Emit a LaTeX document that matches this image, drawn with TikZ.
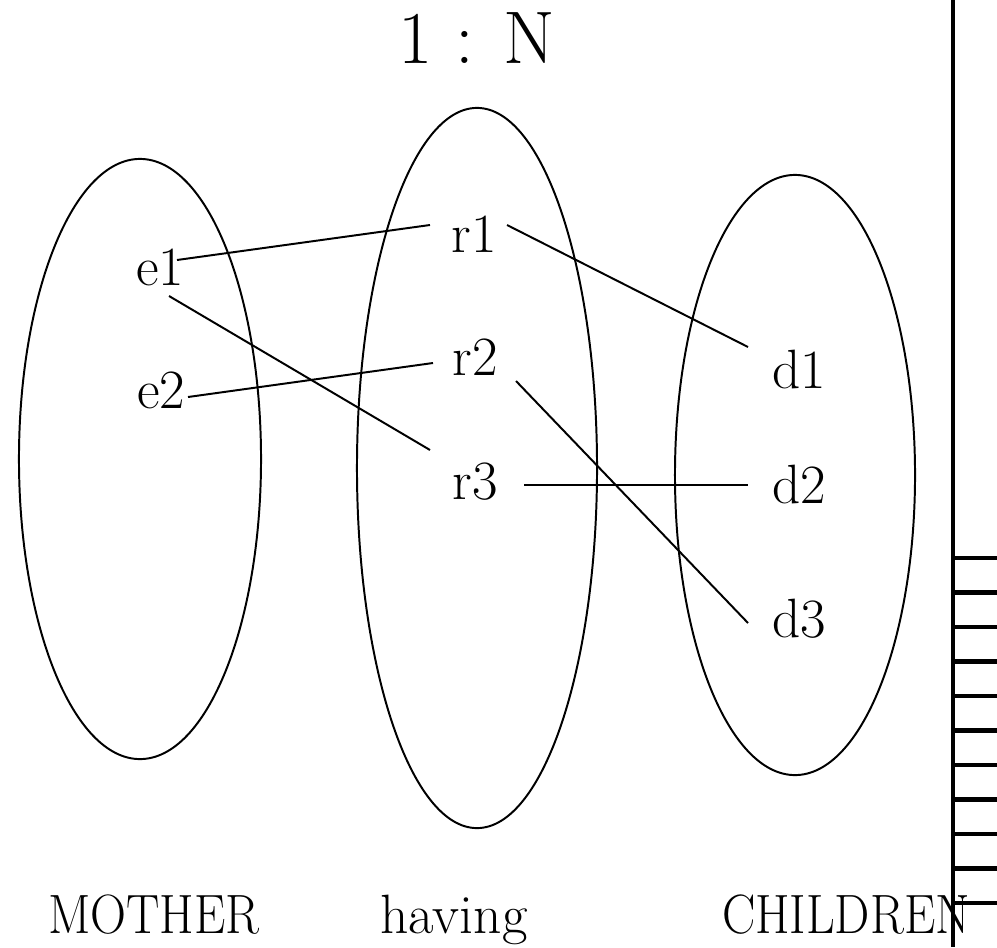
\documentclass[tikz,border=0pt]{standalone}
\usepackage{graphicx}
\usepackage{tikz}
\usetikzlibrary{shapes.geometric,calc}
\tikzset{
  er/set/.style={draw, ellipse, line width=1.4pt, inner sep=0pt},
  er/elem/.style={anchor=base, inner sep=0pt, font=\fontsize{39.4}{40}\selectfont},
  er/line/.style={line width=1.4pt},
  er/axis/.style={line width=2.3pt},
  er/tick/.style={line width=3.5pt}
}
\newcommand{\narrowcaps}[1]{\scalebox{0.9}[1]{#1}}

\begin{document}
\begin{tikzpicture}[x=0.025cm, y=-0.025cm]
  \useasboundingbox (0,0) rectangle (997,947);
  % the three sets
  \node[er/set, minimum width=6.05cm, minimum height=15cm] (mother) at (140,459) {};
  \node[er/set, minimum width=6cm, minimum height=18cm] (having) at (477,468) {};
  \node[er/set, minimum width=6cm, minimum height=15cm] (children) at (795,475) {};
  \node[er/elem, font=\fontsize{53}{54}\selectfont] (ratio) at (477,63) {1 : N};
  % elements
  \node[er/elem] (e1) at (160,285) {e1};
  \node[er/elem] (e2) at (161,408) {e2};
  \node[er/elem] (r1) at (474,252) {r1};
  \node[er/elem] (r2) at (475,375) {r2};
  \node[er/elem] (r3) at (475,499) {r3};
  \node[er/elem] (d1) at (799,388) {d1};
  \node[er/elem] (d2) at (799,503) {d2};
  \node[er/elem] (d3) at (799,637) {d3};
  % set names
  \node[er/elem] (mothername) at (154,933) {\narrowcaps{MOTHER}};
  \node[er/elem] (havingname) at (454,933) {having};
  \node[er/elem] (childrenname) at (846,933) {\narrowcaps{CHILDREN}};
  % links
  \draw[er/line] ([shift={(17,-25)}]e1.base) -- ([shift={(-44,-27)}]r1.base);
  \draw[er/line] ([shift={(9,11)}]e1.base) -- ([shift={(-45,-49)}]r3.base);
  \draw[er/line] ([shift={(27,-11)}]e2.base) -- ([shift={(-42,-12)}]r2.base);
  \draw[er/line] ([shift={(33,-27)}]r1.base) -- ([shift={(-51,-41)}]d1.base);
  \draw[er/line] ([shift={(41,6)}]r2.base) -- ([shift={(-51,-14)}]d3.base);
  \draw[er/line] ([shift={(49,-14)}]r3.base) -- ([shift={(-51,-18)}]d2.base);
  % edge at the right
  \draw[er/axis] (953,0) -- (953,947);
  \foreach \k in {0,...,10}
    \draw[er/tick] (955,558+34.5*\k) -- (997,558+34.5*\k);
\end{tikzpicture}
\end{document}
